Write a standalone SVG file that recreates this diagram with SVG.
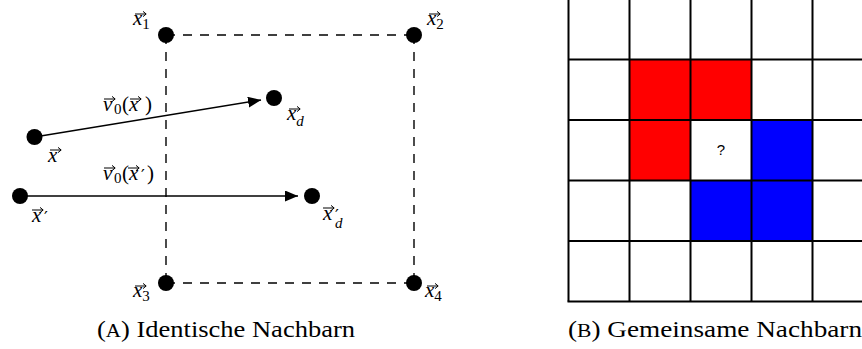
<svg xmlns="http://www.w3.org/2000/svg" width="862" height="349" viewBox="0 0 862 349">
  <style>
    .dot { fill: #000; }
    .dash { stroke: #000; stroke-width: 1.4; stroke-dasharray: 9 8; fill: none; }
    .vec { stroke: #000; stroke-width: 1.5; fill: none; marker-end: url(#tri); }
    .acc { stroke: #000; stroke-width: 1; fill: none; }
    .m { font-family: "Liberation Serif", "DejaVu Serif", serif; font-size: 21px; font-style: italic; fill: #000; }
    .sub { font-size: 15px; font-style: normal; }
    .subi { font-size: 15px; font-style: italic; }
    .up { font-style: normal; }
    .pr { font-family: "DejaVu Serif", serif; font-style: normal; font-size: 17px; }
    .cap { font-family: "Liberation Serif", "DejaVu Serif", serif; font-size: 24px; fill: #000; }
    .sc { font-size: 19px; }
    .grid { stroke: #000; stroke-width: 2; fill: none; }
    .red { fill: #ff0000; }
    .blue { fill: #0000ff; }
    .q { font-family: "Liberation Sans", Arial, sans-serif; font-size: 15px; fill: #000; }
  </style>
  <defs>
    <marker id="tri" markerUnits="userSpaceOnUse" markerWidth="14" markerHeight="12" refX="13" refY="5.5" orient="auto">
      <path d="M0,0 L13,5.5 L0,11 Z" fill="#000"/>
    </marker>
    <!-- vector accent drawn over a symbol -->
    <path id="arr" class="acc" d="M0,0 H11 M8,-2.6 L11.2,0 L8,2.6"/>
  </defs>

  <!-- left panel: connectors -->
  <g id="connectors">
    <line class="dash" x1="166" y1="35" x2="414" y2="35"/>
    <line class="dash" x1="166" y1="283" x2="414" y2="283"/>
    <line class="dash" x1="166" y1="35" x2="166" y2="283"/>
    <line class="dash" x1="414" y1="35" x2="414" y2="283"/>
    <line class="vec" x1="34.5" y1="137" x2="261" y2="100"/>
    <line class="vec" x1="20" y1="196" x2="298" y2="196"/>
    <g id="label-v0x">
      <text class="m" y="111"><tspan x="103">v</tspan><tspan class="sub" x="114" dy="3">0</tspan><tspan class="up" x="122" dy="-3">(</tspan><tspan x="129">x</tspan><tspan class="up" x="145">)</tspan></text>
      <use href="#arr" x="104" y="99"/>
      <use href="#arr" x="130" y="99"/>
    </g>
    <g id="label-v0xp">
      <text class="m" y="180"><tspan x="103">v</tspan><tspan class="sub" x="114" dy="3">0</tspan><tspan class="up" x="122" dy="-3">(</tspan><tspan x="129">x</tspan><tspan class="pr" x="141" dy="1">′</tspan><tspan class="up" x="147" dy="-1">)</tspan></text>
      <use href="#arr" x="128" y="168"/>
      <use href="#arr" x="104" y="168"/>
    </g>
  </g>

  <!-- left panel: points -->
  <g id="x1">
    <circle class="dot" cx="166" cy="35" r="8"/>
    <text class="m" x="133" y="25">x<tspan class="sub" dy="4">1</tspan></text>
    <use href="#arr" x="135" y="14"/>
  </g>
  <g id="x2">
    <circle class="dot" cx="414" cy="35" r="8"/>
    <text class="m" x="427" y="25">x<tspan class="sub" dy="4">2</tspan></text>
    <use href="#arr" x="429" y="14"/>
  </g>
  <g id="x3">
    <circle class="dot" cx="166" cy="283" r="8"/>
    <text class="m" x="133" y="297">x<tspan class="sub" dy="4">3</tspan></text>
    <use href="#arr" x="135" y="286"/>
  </g>
  <g id="x4">
    <circle class="dot" cx="414" cy="283" r="8"/>
    <text class="m" x="425" y="297">x<tspan class="sub" dy="4">4</tspan></text>
    <use href="#arr" x="427" y="286"/>
  </g>
  <g id="x">
    <circle class="dot" cx="34.5" cy="137" r="8"/>
    <text class="m" x="48" y="162">x</text>
    <use href="#arr" x="50" y="150"/>
  </g>
  <g id="xd">
    <circle class="dot" cx="274" cy="98" r="8"/>
    <text class="m" x="287" y="120">x<tspan class="subi" dy="6">d</tspan></text>
    <use href="#arr" x="289" y="109"/>
  </g>
  <g id="xp">
    <circle class="dot" cx="20" cy="196" r="8"/>
    <text class="m" y="222"><tspan x="32">x</tspan><tspan class="pr" x="44" dy="1">′</tspan></text>
    <use href="#arr" x="32" y="210"/>
  </g>
  <g id="xpd">
    <circle class="dot" cx="312" cy="196" r="8"/>
    <text class="m" y="220"><tspan x="323">x</tspan><tspan class="pr" x="335" dy="1">′</tspan><tspan class="subi" x="335" dy="7">d</tspan></text>
    <use href="#arr" x="323" y="208"/>
  </g>

  <text class="cap" x="226" y="337" text-anchor="middle" textLength="258" lengthAdjust="spacingAndGlyphs">(<tspan class="sc">A</tspan>) Identische Nachbarn</text>

  <!-- right panel: cell grid -->
  <g id="cells">
    <rect class="red" x="629.5" y="59.5" width="122" height="60.5"/>
    <rect class="red" x="629.5" y="120" width="61" height="60.5"/>
    <rect class="blue" x="751.5" y="120" width="61" height="60.5"/>
    <rect class="blue" x="690.5" y="180.5" width="122" height="60.5"/>
    <text class="q" x="721" y="155" text-anchor="middle">?</text>
  </g>
  <g id="grid" class="grid">
    <path d="M568.5,-2 V301.5 M629.5,-2 V301.5 M690.5,-2 V301.5 M751.5,-2 V301.5 M812.5,-2 V301.5"/>
    <path d="M568.5,59.5 H874 M568.5,120 H874 M568.5,180.5 H874 M568.5,241 H874 M567.5,301.5 H874"/>
  </g>

  <text class="cap" x="715" y="337" text-anchor="middle" textLength="294" lengthAdjust="spacingAndGlyphs">(<tspan class="sc">B</tspan>) Gemeinsame Nachbarn</text>
</svg>
